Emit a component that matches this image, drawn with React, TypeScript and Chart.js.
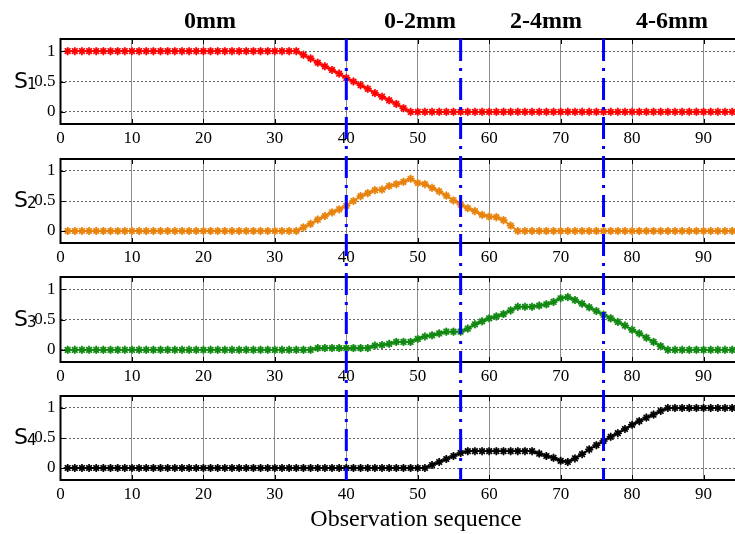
import React, { useEffect, useRef } from "react";
import { Chart, registerables } from "chart.js";

Chart.register(...registerables);

// ---------------- data ----------------
const s1Values = [
  1, 1, 1, 1, 1, 1, 1, 1, 1, 1, 1, 1, 1, 1, 1, 1, 1, 1, 1, 1, 1, 1, 1, 1, 1, 1, 1, 1, 1, 1, 1, 1, 1,
  0.94, 0.88, 0.81, 0.75, 0.69, 0.63, 0.56, 0.5, 0.44, 0.38, 0.31, 0.25, 0.19, 0.13, 0.06,
  0, 0, 0, 0, 0, 0, 0, 0, 0, 0, 0, 0, 0, 0, 0, 0, 0, 0, 0, 0, 0, 0, 0, 0, 0, 0, 0, 0, 0, 0, 0, 0, 0, 0, 0, 0, 0, 0, 0, 0, 0, 0, 0, 0, 0, 0,
];
const s2Values = [
  0, 0, 0, 0, 0, 0, 0, 0, 0, 0, 0, 0, 0, 0, 0, 0, 0, 0, 0, 0, 0, 0, 0, 0, 0, 0, 0, 0, 0, 0, 0, 0, 0,
  0.06, 0.12, 0.19, 0.25, 0.31, 0.36, 0.42, 0.5, 0.58, 0.63, 0.68, 0.69, 0.75, 0.78, 0.82, 0.87,
  0.8, 0.78, 0.72, 0.66, 0.59, 0.51, 0.44, 0.38, 0.33, 0.27, 0.24, 0.23, 0.18, 0.09,
  0, 0, 0, 0, 0, 0, 0, 0, 0, 0, 0, 0, 0, 0, 0, 0, 0, 0, 0, 0, 0, 0, 0, 0, 0, 0, 0, 0, 0, 0, 0,
];
const s3Values = [
  0, 0, 0, 0, 0, 0, 0, 0, 0, 0, 0, 0, 0, 0, 0, 0, 0, 0, 0, 0, 0, 0, 0, 0, 0, 0, 0, 0, 0, 0, 0, 0, 0, 0, 0,
  0.03, 0.03, 0.03, 0.03, 0.03, 0.03, 0.03, 0.03,
  0.07, 0.08, 0.1, 0.13, 0.13, 0.13, 0.18, 0.22, 0.24, 0.27, 0.3, 0.3, 0.3, 0.35, 0.42, 0.47, 0.52,
  0.55, 0.59, 0.65, 0.71, 0.71, 0.71, 0.73, 0.75, 0.79, 0.85, 0.87,
  0.82, 0.76, 0.7, 0.64, 0.58, 0.52, 0.46, 0.4, 0.33, 0.27, 0.2, 0.13, 0.06,
  0, 0, 0, 0, 0, 0, 0, 0, 0, 0,
];
const s4Values = [
  0, 0, 0, 0, 0, 0, 0, 0, 0, 0, 0, 0, 0, 0, 0, 0, 0, 0, 0, 0, 0, 0, 0, 0, 0, 0, 0, 0, 0, 0, 0, 0, 0, 0, 0, 0, 0, 0, 0, 0, 0, 0, 0, 0, 0, 0, 0, 0, 0, 0, 0,
  0.05, 0.1, 0.15, 0.2, 0.25,
  0.28, 0.28, 0.28, 0.28, 0.28, 0.28, 0.28, 0.28, 0.28, 0.28,
  0.24, 0.2, 0.17, 0.12, 0.1,
  0.16, 0.23, 0.31, 0.38, 0.45, 0.52, 0.58, 0.65, 0.72, 0.78, 0.84, 0.89, 0.95,
  1, 1, 1, 1, 1, 1, 1, 1, 1, 1,
];

const seriesSubscripts = ["1", "2", "3", "4"];
const boundaryMarks = [40, 56, 76];
const sectionLabels = ["0mm", "0-2mm", "2-4mm", "4-6mm"];
const xTickValues = [0, 10, 20, 30, 40, 50, 60, 70, 80, 90];
const yTickValues = [0, 0.5, 1];
const yTickLabels = ["0", "0.5", "1"];
const xAxisTitle = "Observation sequence";

// ---------------- layout / styles ----------------
const W = 735;
const SERIF = '"Liberation Serif", "Times New Roman", serif';
const SANS = '"DejaVu Sans", sans-serif';
const sectionLabelPx = [210, 420, 546, 672];

type PanelCfg = {
  top: number;
  height: number;
  padTop: number;
  below: number;
  values: number[];
  main: string;
  light: string;
  sub: string;
  first: boolean;
  last: boolean;
};

const panels: PanelCfg[] = [
  { top: 0, height: 153, padTop: 39, below: 29, values: s1Values, main: "#ff0000", light: "#ff8080", sub: seriesSubscripts[0], first: true, last: false },
  { top: 153, height: 118, padTop: 6, below: 28, values: s2Values, main: "#e8820e", light: "#f6b765", sub: seriesSubscripts[1], first: false, last: false },
  { top: 271, height: 119, padTop: 6, below: 28, values: s3Values, main: "#118811", light: "#70bf70", sub: seriesSubscripts[2], first: false, last: false },
  { top: 390, height: 144, padTop: 6, below: 54, values: s4Values, main: "#000000", light: "#8a8a8a", sub: seriesSubscripts[3], first: false, last: true },
];

function Panel({ cfg }: { cfg: PanelCfg }) {
  const ref = useRef<HTMLCanvasElement | null>(null);

  useEffect(() => {
    const canvas = ref.current;
    if (!canvas) return;
    const pts = cfg.values.map((v, i) => ({ x: i + 1, y: v }));

    const overlay = {
      id: "overlay",
      afterDatasetsDraw(chart: any) {
        const ctx = chart.ctx as CanvasRenderingContext2D;
        const area = chart.chartArea;
        const xs = chart.scales.x;
        const ys = chart.scales.y;
        ctx.save();

        // inward ticks
        ctx.strokeStyle = "#000";
        ctx.lineWidth = 1;
        ctx.beginPath();
        xTickValues.forEach((v) => {
          if (v === 0) return;
          const px = Math.round(xs.getPixelForValue(v)) + 0.5;
          ctx.moveTo(px, area.top);
          ctx.lineTo(px, area.top + 5);
          ctx.moveTo(px, area.bottom);
          ctx.lineTo(px, area.bottom - 5);
        });
        yTickValues.forEach((v) => {
          const py = Math.round(ys.getPixelForValue(v)) + 0.5;
          ctx.moveTo(area.left, py);
          ctx.lineTo(area.left + 5, py);
        });
        ctx.stroke();

        // box
        ctx.lineWidth = 2;
        ctx.beginPath();
        ctx.moveTo(area.left, area.top);
        ctx.lineTo(area.right, area.top);
        ctx.moveTo(area.left, area.bottom);
        ctx.lineTo(area.right, area.bottom);
        ctx.moveTo(area.left, area.top - 1);
        ctx.lineTo(area.left, area.bottom + 1);
        ctx.stroke();

        // boundary lines
        const y0 = cfg.first ? area.top : 0;
        const y1 = cfg.last ? area.bottom : chart.height;
        ctx.strokeStyle = "#0000ff";
        ctx.lineWidth = 3;
        ctx.setLineDash([22, 7, 3, 7]);
        ctx.lineDashOffset = cfg.top + y0 - 39;
        boundaryMarks.forEach((v) => {
          const px = xs.getPixelForValue(v);
          ctx.beginPath();
          ctx.moveTo(px, y0);
          ctx.lineTo(px, y1);
          ctx.stroke();
        });
        ctx.setLineDash([]);

        // y label S with subscript
        const y05 = ys.getPixelForValue(0.5);
        ctx.fillStyle = "#000";
        ctx.textAlign = "left";
        ctx.textBaseline = "alphabetic";
        ctx.font = `22px ${SANS}`;
        ctx.fillText("S", 14, y05 + 6);
        ctx.font = `15px ${SANS}`;
        ctx.fillText(cfg.sub, 27, y05 + 7);

        // section titles
        if (cfg.first) {
          ctx.font = `bold 24px ${SERIF}`;
          ctx.textAlign = "center";
          sectionLabels.forEach((t, i) => {
            ctx.fillText(t, sectionLabelPx[i], 28);
          });
        }
        if (cfg.last) {
          ctx.font = `24px ${SERIF}`;
          ctx.textAlign = "center";
          ctx.fillText(xAxisTitle, 416, 526 - cfg.top);
        }
        ctx.restore();
      },
    };

    const chart = new Chart(canvas, {
      type: "line",
      data: {
        datasets: [
          {
            data: pts,
            borderColor: cfg.main,
            borderWidth: 1.8,
            pointStyle: "star",
            pointRadius: 4,
            pointBorderColor: cfg.main,
            pointBorderWidth: 1.5,
            pointBackgroundColor: cfg.main,
            fill: false,
            tension: 0,
          },
          {
            data: pts,
            borderColor: cfg.light,
            borderWidth: 1.2,
            pointStyle: "rectRot",
            pointRadius: 3.5,
            pointBorderColor: cfg.light,
            pointBorderWidth: 1.2,
            pointBackgroundColor: "rgba(255,255,255,0)",
            fill: false,
            tension: 0,
          },
        ],
      },
      options: {
        animation: false,
        responsive: false,
        maintainAspectRatio: false,
        devicePixelRatio: 1,
        events: [],
        layout: { autoPadding: false, padding: { top: cfg.padTop, left: 0, right: 0, bottom: 0 } },
        plugins: { legend: { display: false }, tooltip: { enabled: false }, title: { display: false } },
        scales: {
          x: {
            type: "linear",
            min: 0,
            max: 94.4,
            afterBuildTicks: (s: any) => {
              s.ticks = xTickValues.map((v) => ({ value: v }));
            },
            afterFit: (s: any) => {
              s.height = cfg.below;
              s.paddingLeft = 0;
              s.paddingRight = 0;
            },
            grid: { color: "#8c8c8c", lineWidth: 1, drawTicks: false },
            border: { display: false },
            ticks: {
              padding: 4,
              autoSkip: false,
              maxRotation: 0,
              color: "#000",
              font: { family: SERIF, size: 17 },
            },
          },
          y: {
            type: "linear",
            min: -0.2,
            max: 1.2,
            afterBuildTicks: (s: any) => {
              s.ticks = yTickValues.map((v) => ({ value: v }));
            },
            afterFit: (s: any) => {
              s.width = 60.5;
              s.paddingTop = 0;
              s.paddingBottom = 0;
            },
            grid: { color: "#666666", lineWidth: 1, drawTicks: false },
            border: { display: false, dash: [2, 2] },
            ticks: {
              padding: 5,
              color: "#000",
              font: { family: SERIF, size: 17 },
              callback: (v: any) => {
                const idx = yTickValues.indexOf(Number(v));
                return idx >= 0 ? yTickLabels[idx] : "";
              },
            },
          },
        },
      },
      plugins: [overlay],
    } as any);

    return () => chart.destroy();
  }, [cfg]);

  return (
    <canvas
      ref={ref}
      width={W}
      height={cfg.height}
      style={{ position: "absolute", left: 0, top: cfg.top, width: W, height: cfg.height, display: "block" }}
    />
  );
}

export default function App() {
  return (
    <div style={{ position: "absolute", left: 0, top: 0, width: W, height: 534, background: "#fff", overflow: "hidden" }}>
      {panels.map((p, i) => (
        <Panel key={i} cfg={p} />
      ))}
    </div>
  );
}
